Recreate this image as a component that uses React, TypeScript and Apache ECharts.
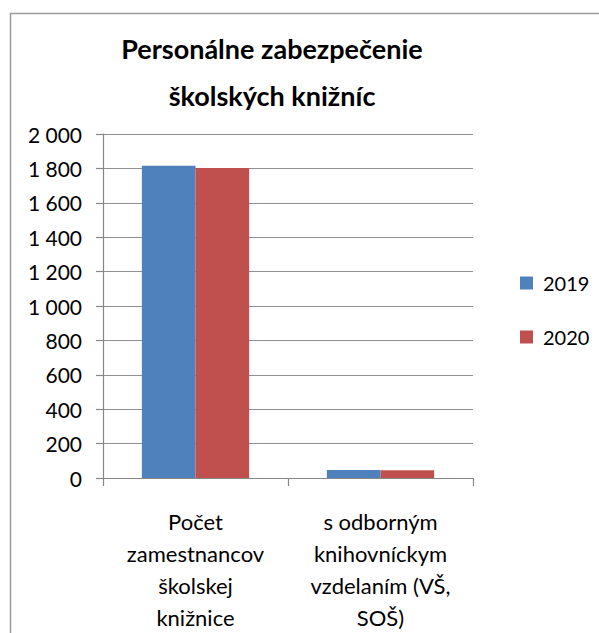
import React, { useEffect, useRef } from "react";
import * as echarts from "echarts";

const categories = [
  "Počet\nzamestnancov\nškolskej\nknižnice",
  "s odborným\nknihovníckym\nvzdelaním (VŠ,\nSOŠ)",
];
const values2019 = [1815, 46];
const values2020 = [1802, 45];
const seriesNames = ["2019", "2020"];
const titleText = "Personálne zabezpečenie\nškolských knižníc";

export default function App() {
  const ref = useRef<HTMLDivElement>(null);
  useEffect(() => {
    if (!ref.current) return;
    const chart = echarts.init(ref.current, null, { renderer: "svg" });
    const font = "Lato";
    chart.setOption({
      animation: false,
      backgroundColor: "#ffffff",
      graphic: [
        {
          type: "rect",
          shape: { x: 10.5, y: 13.5, width: 800, height: 800 },
          style: { fill: "none", stroke: "#9a9a9a", lineWidth: 1.5 },
          z: 0,
        },
      ],
      title: {
        text: titleText,
        left: 267,
        textAlign: "center",
        top: 20,
        textStyle: {
          fontFamily: font,
          fontWeight: "bold",
          fontSize: 27,
          lineHeight: 47,
          color: "#000",
        },
      },
      legend: {
        orient: "vertical",
        left: 520,
        top: 273,
        padding: 0,
        itemWidth: 13,
        itemHeight: 13,
        itemGap: 34,
        icon: "rect",
        data: seriesNames,
        textStyle: {
          fontFamily: font,
          fontSize: 20,
          lineHeight: 20,
          color: "#000",
          padding: [0, 0, 0, 5],
        },
      },
      grid: { left: 103, right: 126, top: 134, bottom: 154, containLabel: false },
      xAxis: {
        type: "category",
        data: categories,
        axisLine: { show: true, lineStyle: { color: "#878787", width: 1.2 } },
        axisTick: { show: true, length: 8, lineStyle: { color: "#878787", width: 1.2 } },
        axisLabel: {
          interval: 0,
          margin: 27,
          fontFamily: font,
          fontSize: 22,
          lineHeight: 32,
          color: "#000",
          align: "center",
        },
      },
      yAxis: {
        type: "value",
        min: 0,
        max: 2000,
        interval: 200,
        axisLine: { show: true, lineStyle: { color: "#878787", width: 1.2 } },
        axisTick: { show: true, length: 7, lineStyle: { color: "#878787", width: 1.2 } },
        splitLine: { show: true, lineStyle: { color: "#8f8f8f", width: 1.2 } },
        axisLabel: {
          margin: 21,
          fontFamily: font,
          fontSize: 21,
          color: "#000",
          formatter: (v: number) => {
            const s = String(v);
            return s.length > 3 ? s.slice(0, s.length - 3) + " " + s.slice(-3) : s;
          },
        },
      },
      series: [
        {
          name: seriesNames[0],
          type: "bar",
          data: values2019,
          itemStyle: { color: "#4F81BD" },
          barGap: "0%",
          barCategoryGap: "42%",
        },
        {
          name: seriesNames[1],
          type: "bar",
          data: values2020,
          itemStyle: { color: "#C0504D" },
          barGap: "0%",
          barCategoryGap: "42%",
        },
      ],
    });
    return () => chart.dispose();
  }, []);
  return (
    <div
      ref={ref}
      style={{ position: "absolute", left: 0, top: 0, width: 599, height: 633 }}
    />
  );
}
